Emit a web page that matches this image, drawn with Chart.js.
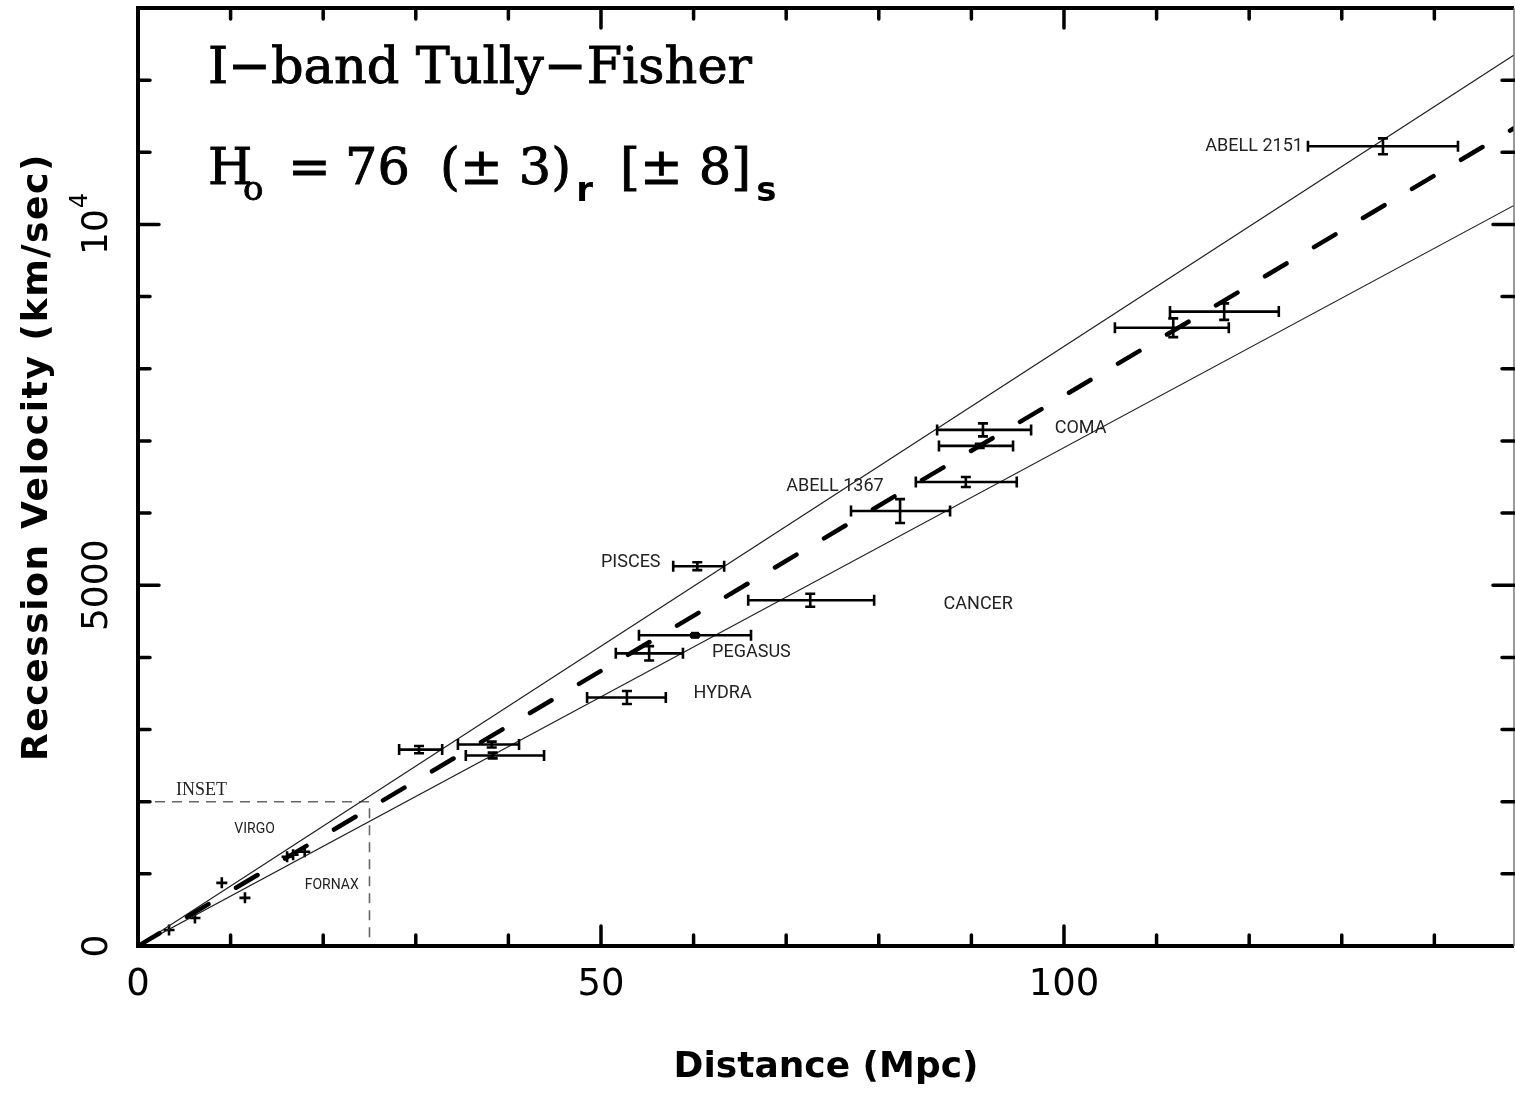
<!DOCTYPE html>
<html>
<head>
<meta charset="utf-8">
<title>I-band Tully-Fisher</title>
<script src="https://cdn.jsdelivr.net/npm/chart.js@4.4.1/dist/chart.umd.min.js"></script>
<style>
    html, body { margin: 0; padding: 0; background: #fff; }
    #wrap { width: 1515px; height: 1093px; }
</style>
</head>
<body>
<div id="wrap"><canvas id="tfChart" width="1515" height="1093"></canvas></div>
<script>
// --- clusters with error bars (distance in Mpc, velocity in km/s) ---
const clusterNames  = ['A', 'B', 'C', 'Hydra', 'Pegasus', 'D', 'Pisces', 'Cancer', 'Abell 1367', 'E', 'F', 'Coma', 'G', 'H', 'Abell 2151'];
const clusterDist   = [30.35, 38.2, 38.3, 52.8, 55.2, 60.15, 60.4, 72.6, 82.3, 89.4, 90.9, 91.25, 111.8, 117.3, 134.45];
const clusterDistLo = [28.2, 34.55, 35.4, 48.5, 51.6, 54.1, 57.8, 65.9, 77.0, 84.0, 86.5, 86.3, 105.5, 111.45, 126.35];
const clusterDistHi = [32.85, 41.15, 43.85, 57.0, 58.85, 66.2, 63.3, 79.5, 87.7, 94.9, 94.5, 96.45, 117.8, 123.2, 142.55];
const clusterVel    = [2722, 2792, 2640, 3444, 4056, 4306, 5264, 4792, 6028, 6431, 6931, 7153, 8569, 8792, 11083];
const clusterVelErr = [50, 40, 40, 90, 100, 15, 55, 90, 165, 70, 30, 90, 130, 115, 110];
const squareMarkerIndex = 5;

// --- nearby galaxies / groups (plain crosses) ---
const nearDist = [3.35, 6.15, 9.05, 11.55, 16.1, 16.75, 18.0];
const nearVel  = [222, 389, 875, 667, 1236, 1264, 1306];

// --- fitted lines: H0 = 76 and the +/- envelope ---
const fitDist   = [0, 148.6];
const fitVelMid = [0, 11333];
const fitVelHi  = [0, 12347];
const fitVelLo  = [0, 10264];

// --- inset box corner ---
const insetDist = [0, 25, 25];
const insetVel  = [2000, 2000, 0];

// --- axes ---
const xMax = 148.6;
const yMax = 13000;
const xTickValues = [0, 50, 100];
const yTickValues = [0, 5000, 10000];
const yTickLabels = ['0', '5000', '10'];

const toPoints = (xs, ys) => xs.map((v, i) => ({ x: v, y: ys[i] }));

// labels drawn at data positions
const annotations = [
    { text: 'ABELL 2151', x: 125.8, y: 11083, align: 'right', kind: 'cluster' },
    { text: 'COMA', x: 99.0, y: 7167, align: 'left', kind: 'cluster' },
    { text: 'ABELL 1367', x: 70.0, y: 6375, align: 'left', kind: 'cluster' },
    { text: 'PISCES', x: 50.0, y: 5319, align: 'left', kind: 'cluster' },
    { text: 'CANCER', x: 87.0, y: 4736, align: 'left', kind: 'cluster' },
    { text: 'PEGASUS', x: 62.0, y: 4069, align: 'left', kind: 'cluster' },
    { text: 'HYDRA', x: 60.0, y: 3500, align: 'left', kind: 'cluster' },
    { text: 'VIRGO', x: 10.4, y: 1611, align: 'left', kind: 'small' },
    { text: 'FORNAX', x: 18.0, y: 833, align: 'left', kind: 'small' },
    { text: 'INSET', x: 4.1, y: 2153, align: 'left', kind: 'serif' }
];

const SANS = '"DejaVu Sans", sans-serif';
const SERIF = '"DejaVu Serif", serif';

Chart.defaults.font.family = SANS;
Chart.defaults.color = '#000';

// serif headline text, slightly thickened; returns the end x
function heavyText(ctx, txt, x, y) {
    ctx.fillText(txt, x, y);
    ctx.strokeText(txt, x, y);
    return x + ctx.measureText(txt).width;
}

const tfPlugin = {
    id: 'tfPlugin',
    afterDatasetsDraw(chart) {
        const { ctx, scales: { x, y } } = chart;
        ctx.save();
        ctx.strokeStyle = '#000';
        ctx.fillStyle = '#000';
        ctx.lineWidth = 2.6;
        clusterDist.forEach((d, i) => {
            const px = x.getPixelForValue(d);
            const py = y.getPixelForValue(clusterVel[i]);
            const x0 = x.getPixelForValue(clusterDistLo[i]);
            const x1 = x.getPixelForValue(clusterDistHi[i]);
            const y0 = y.getPixelForValue(clusterVel[i] - clusterVelErr[i]);
            const y1 = y.getPixelForValue(clusterVel[i] + clusterVelErr[i]);
            ctx.beginPath();
            ctx.moveTo(x0, py); ctx.lineTo(x1, py);
            ctx.moveTo(x0, py - 5.5); ctx.lineTo(x0, py + 5.5);
            ctx.moveTo(x1, py - 5.5); ctx.lineTo(x1, py + 5.5);
            ctx.moveTo(px, y0); ctx.lineTo(px, y1);
            ctx.moveTo(px - 5, y0); ctx.lineTo(px + 5, y0);
            ctx.moveTo(px - 5, y1); ctx.lineTo(px + 5, y1);
            ctx.stroke();
            if (i === squareMarkerIndex) ctx.fillRect(px - 4, py - 3.5, 8, 7);
        });
        ctx.restore();
    },
    afterDraw(chart) {
        const { ctx, chartArea: a, scales: { x, y } } = chart;
        ctx.save();

        // frame
        ctx.strokeStyle = '#000';
        ctx.lineWidth = 4;
        ctx.beginPath();
        ctx.moveTo(a.right, a.top); ctx.lineTo(a.left, a.top);
        ctx.lineTo(a.left, a.bottom); ctx.lineTo(a.right, a.bottom);
        ctx.stroke();
        ctx.strokeStyle = '#777';
        ctx.lineWidth = 1.5;
        ctx.beginPath();
        ctx.moveTo(a.right, a.top); ctx.lineTo(a.right, a.bottom);
        ctx.stroke();

        // inward ticks on all four sides
        ctx.strokeStyle = '#000';
        ctx.lineWidth = 3.5;
        ctx.lineCap = 'round';
        ctx.beginPath();
        for (let v = 10; v < xMax; v += 10) {
            const px = x.getPixelForValue(v);
            const len = v % 50 === 0 ? 20 : 11;
            ctx.moveTo(px, a.bottom); ctx.lineTo(px, a.bottom - len);
            ctx.moveTo(px, a.top); ctx.lineTo(px, a.top + len);
        }
        for (let v = 1000; v < yMax; v += 1000) {
            const py = y.getPixelForValue(v);
            const len = v % 5000 === 0 ? 21 : 12;
            ctx.moveTo(a.left, py); ctx.lineTo(a.left + len, py);
            ctx.moveTo(a.right, py); ctx.lineTo(a.right - len, py);
        }
        ctx.stroke();

        // y tick labels, rotated
        yTickValues.forEach((v, i) => {
            const py = y.getPixelForValue(v);
            ctx.save();
            ctx.translate(98, py);
            ctx.rotate(-Math.PI / 2);
            ctx.textBaseline = 'middle';
            ctx.font = '36px ' + SANS;
            if (v === 10000) {
                const w1 = ctx.measureText(yTickLabels[i]).width;
                ctx.font = '24px ' + SANS;
                const w2 = ctx.measureText('4').width;
                const start = -(w1 + w2) / 2;
                ctx.font = '36px ' + SANS;
                ctx.textAlign = 'left';
                ctx.fillText(yTickLabels[i], start, 0);
                ctx.font = '24px ' + SANS;
                ctx.fillText('4', start + w1 + 1, -17);
            } else {
                ctx.textAlign = 'center';
                ctx.fillText(yTickLabels[i], 0, 0);
            }
            ctx.restore();
        });

        // y axis title
        ctx.save();
        ctx.translate(38, 457);
        ctx.rotate(-Math.PI / 2);
        ctx.font = 'bold 36px ' + SANS;
        ctx.letterSpacing = '1.6px';
        ctx.textAlign = 'center';
        ctx.textBaseline = 'middle';
        ctx.fillText('Recession Velocity (km/sec)', 0, 0);
        ctx.restore();

        // headline text
        ctx.fillStyle = '#000';
        ctx.strokeStyle = '#000';
        ctx.lineWidth = 0.9;
        ctx.textBaseline = 'alphabetic';
        ctx.textAlign = 'left';
        ctx.font = '51px ' + SERIF;
        heavyText(ctx, 'I\u2212band Tully\u2212Fisher', 208, 83);
        heavyText(ctx, 'H', 208, 184);
        heavyText(ctx, '=', 288, 184);
        heavyText(ctx, '76', 345, 184);
        const endR = heavyText(ctx, '(\u00b1 3)', 440, 184);
        const endS = heavyText(ctx, '[\u00b1 8]', 620, 184);
        ctx.font = '34px ' + SERIF;
        heavyText(ctx, 'o', 243, 200);
        ctx.font = 'bold 34px ' + SANS;
        ctx.fillText('r', endR + 5, 201);
        ctx.fillText('s', endS + 5, 201);

        // cluster labels
        annotations.forEach(n => {
            if (n.kind === 'cluster') ctx.font = '18px Roboto, sans-serif';
            else if (n.kind === 'small') ctx.font = '14px Roboto, sans-serif';
            else ctx.font = '18px "Liberation Serif", serif';
            ctx.fillStyle = '#222';
            ctx.textAlign = n.align;
            ctx.textBaseline = 'middle';
            ctx.fillText(n.text, x.getPixelForValue(n.x), y.getPixelForValue(n.y));
        });
        ctx.restore();
    }
};

const ctx = document.getElementById('tfChart').getContext('2d');
const grafico = new Chart(ctx, {
    type: 'scatter',
    data: {
        datasets: [
            {
                type: 'line', label: 'H0 = 76',
                data: toPoints(fitDist, fitVelMid),
                borderColor: '#000', borderWidth: 4.5, borderDash: [25, 32],
                borderCapStyle: 'round', pointRadius: 0, fill: false
            },
            {
                type: 'line', label: 'upper',
                data: toPoints(fitDist, fitVelHi),
                borderColor: '#222', borderWidth: 1.2, pointRadius: 0, fill: false
            },
            {
                type: 'line', label: 'lower',
                data: toPoints(fitDist, fitVelLo),
                borderColor: '#222', borderWidth: 1.2, pointRadius: 0, fill: false
            },
            {
                type: 'line', label: 'inset',
                data: toPoints(insetDist, insetVel),
                borderColor: '#666', borderWidth: 1.6, borderDash: [10, 7],
                pointRadius: 0, fill: false
            },
            {
                type: 'scatter', label: 'nearby',
                data: toPoints(nearDist, nearVel),
                pointStyle: 'cross', pointRadius: 5.5, borderWidth: 2.6,
                borderColor: '#000', backgroundColor: '#000'
            },
            {
                type: 'scatter', label: 'clusters',
                data: toPoints(clusterDist, clusterVel),
                pointRadius: 0
            }
        ]
    },
    options: {
        responsive: false,
        animation: false,
        events: [],
        layout: { autoPadding: false, padding: { top: 8, right: 1, left: 0, bottom: 0 } },
        plugins: {
            legend: { display: false },
            tooltip: { enabled: false }
        },
        scales: {
            x: {
                type: 'linear', min: 0, max: xMax,
                border: { display: false },
                grid: { display: false, drawTicks: false },
                ticks: {
                    maxRotation: 0, autoSkip: false,
                    padding: 17, color: '#000',
                    font: { size: 37 }
                },
                afterBuildTicks(s) { s.ticks = xTickValues.map(v => ({ value: v })); },
                title: {
                    display: true, text: 'Distance (Mpc)', color: '#000',
                    font: { size: 36, weight: 'bold' },
                    padding: { top: 0, bottom: 4 }
                },
                afterFit(s) {
                    s.height = 147;
                    s.paddingLeft = 0;
                    s.paddingRight = 0;
                }
            },
            y: {
                type: 'linear', min: 0, max: yMax,
                border: { display: false },
                grid: { display: false, drawTicks: false },
                ticks: { display: false },
                afterFit(s) {
                    s.width = 138;
                    s.paddingTop = 0;
                    s.paddingBottom = 0;
                }
            }
        }
    },
    plugins: [tfPlugin]
});
</script>
</body>
</html>
